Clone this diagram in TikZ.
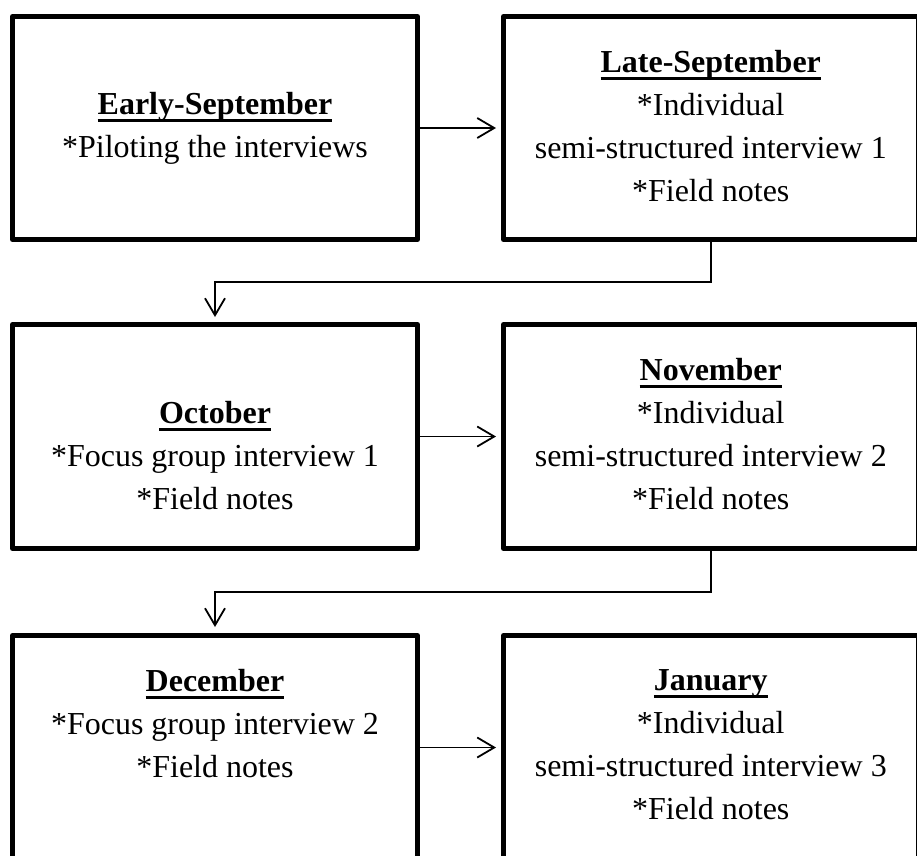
\documentclass[tikz,border=0pt]{standalone}
\usepackage{fontspec}
\setmainfont{Liberation Serif}
\usetikzlibrary{arrows.meta}

% bold heading with a close underline that crosses the descenders
\newsavebox\hdbox
\newcommand\heading[1]{\sbox\hdbox{\bfseries #1}\rlap{\rule[-7pt]{\wd\hdbox}{2.6pt}}\usebox\hdbox}

\tikzset{
  stage/.style={draw=black, line width=5pt, line join=round, rectangle, inner sep=0pt},
  leftstage/.style={stage, minimum width=405pt},
  rightstage/.style={stage, minimum width=414.5pt},
  stagetext/.style={anchor=north, align=center, inner sep=0pt, font=\fontsize{32}{43}\selectfont},
  conn/.style={line width=1.8pt, -{Straight Barb[length=17pt,width=20pt,line width=1.8pt]}},
}

\begin{document}
\begin{tikzpicture}[x=1pt, y=-1pt]
  \useasboundingbox (0,0) rectangle (917,855);
  \clip (0,0) rectangle (917,855);

  % row 1
  \node[leftstage,  minimum height=223pt] (b1) at (215,128) {};
  \node[rightstage, minimum height=223pt] (b2) at (710.75,128) {};
  % row 2
  \node[leftstage,  minimum height=224pt] (b3) at (215,436.5) {};
  \node[rightstage, minimum height=224pt] (b4) at (710.75,436.5) {};
  % row 3 (runs past the lower edge)
  \node[leftstage,  minimum height=224pt] (b5) at (215,747.5) {};
  \node[rightstage, minimum height=224pt] (b6) at (710.75,747.5) {};

  % texts
  \node[stagetext] (t1) at (215,92.4) {\heading{Early-September}\\*Piloting the interviews};
  \node[stagetext] (t2) at (710.75,50.4) {\heading{Late-September}\\*Individual\\semi-structured interview 1\\*Field notes};
  \node[stagetext] (t3) at (215,401.4) {\heading{October}\\*Focus group interview 1\\*Field notes};
  \node[stagetext] (t4) at (710.75,358.4) {\heading{November}\\*Individual\\semi-structured interview 2\\*Field notes};
  \node[stagetext] (t5) at (215,669.4) {\heading{December}\\*Focus group interview 2\\*Field notes};
  \node[stagetext] (t6) at (710.75,669.8) {\heading{January}\\*Individual\\semi-structured interview 3\\*Field notes};

  % connectors
  \draw[conn, shorten >=5pt] (b1.east) -- (b2.west);
  \draw[conn, shorten >=5pt] (b3.east) -- (b4.west);
  \draw[conn, shorten >=5pt] (b5.east) -- (b6.west);
  \draw[conn, shorten >=5pt] (b2.south) -- ++(0,40) -| (b3.north);
  \draw[conn, shorten >=6pt] (b4.south) -- ++(0,41) -| (b5.north);
\end{tikzpicture}
\end{document}
